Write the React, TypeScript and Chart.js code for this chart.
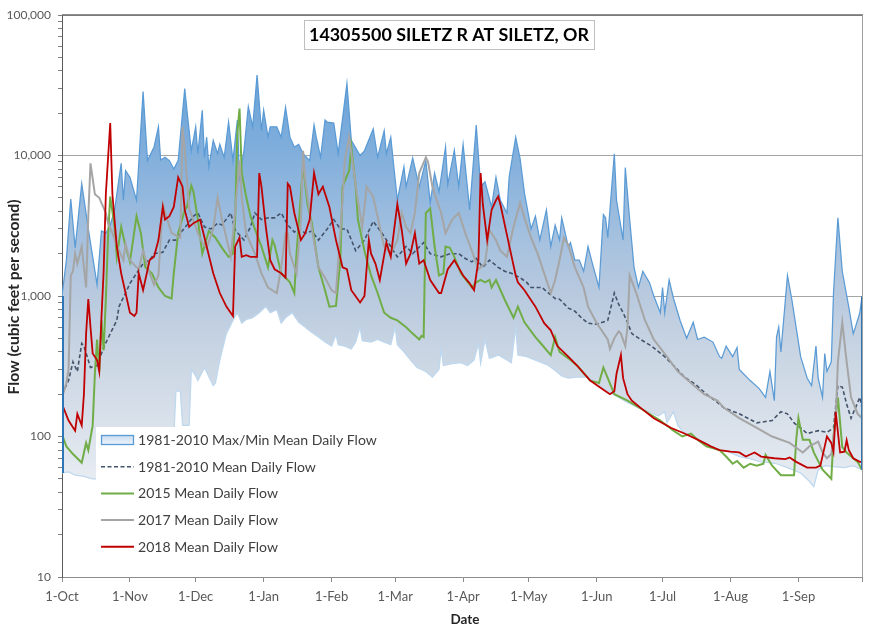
import React, { useEffect, useRef } from 'react';
import { Chart, registerables } from 'chart.js';

Chart.register(...registerables);

const FONT = 'Lato, "Open Sans", "DejaVu Sans", sans-serif';

const chartTitle = '14305500 SILETZ R AT SILETZ, OR';
const xAxisTitle = 'Date';
const yAxisTitle = 'Flow (cubic feet per second)';

// day index from 1-Oct (leap water year, 366 days: 0..365)
const monthTickDays = [0, 31, 61, 92, 123, 152, 183, 213, 244, 274, 305, 336, 365];
const monthTickLabels = ['1-Oct', '1-Nov', '1-Dec', '1-Jan', '1-Feb', '1-Mar', '1-Apr', '1-May', '1-Jun', '1-Jul', '1-Aug', '1-Sep', ''];

const flowTickValues = [10, 20, 30, 40, 50, 60, 70, 80, 90, 100, 200, 300, 400, 500, 600, 700, 800, 900, 1000, 2000, 3000, 4000, 5000, 6000, 7000, 8000, 9000, 10000, 20000, 30000, 40000, 50000, 60000, 70000, 80000, 90000, 100000];
const flowMajorTicks = [10, 100, 1000, 10000, 100000];
const flowMajorLabels = ['10', '100', '1,000', '10,000', '100,000'];
const flowGridLines = [1000, 10000, 100000];

const legendLabels = [
  '1981-2010 Max/Min Mean Daily Flow',
  '1981-2010 Mean Daily Flow',
  '2015 Mean Daily Flow',
  '2017 Mean Daily Flow',
  '2018 Mean Daily Flow',
];

// [day, cfs]
const maxFlowSeries = [[0,1000],[2,1800],[4,4900],[6,2200],[9,6300],[12,3000],[16,1200],[18,2900],[20,2800],[22,3200],[24,4100],[27,8800],[28,4800],[29,7800],[31,7000],[34,4800],[37,28500],[39,9200],[42,11500],[44,16000],[45,9300],[47,9700],[49,9200],[51,8000],[53,9200],[56,30000],[57,21000],[59,10800],[61,16000],[62,10300],[64,21000],[65,9700],[66,13500],[67,8300],[69,12800],[71,10300],[72,12000],[74,9700],[76,17300],[78,9200],[80,17900],[81,7000],[83,10800],[85,22300],[87,16000],[89,37400],[91,15000],[92,21000],[94,13500],[95,16000],[98,16000],[100,13500],[102,22000],[104,13500],[106,11500],[108,12000],[110,10300],[113,9200],[115,16500],[116,13500],[118,9700],[120,17900],[121,17300],[124,17000],[126,10300],[130,32500],[132,12800],[136,10000],[138,10800],[142,15500],[144,9700],[147,15000],[148,10300],[150,13500],[153,4800],[156,8300],[157,6000],[160,9600],[163,6000],[166,9200],[168,4600],[170,7500],[172,5500],[175,11500],[176,6200],[179,10900],[181,6000],[183,12000],[186,4100],[189,16500],[191,6000],[193,6500],[196,4300],[198,7000],[200,4800],[203,3900],[204,7000],[207,13500],[209,9500],[211,5400],[214,3000],[216,3700],[218,2500],[221,4100],[223,2250],[225,3200],[227,2500],[228,3600],[231,2250],[232,2400],[234,1800],[236,1800],[238,1500],[240,2250],[242,1700],[245,1150],[247,3800],[248,3600],[249,2600],[252,10300],[253,4800],[256,2500],[257,8200],[259,3500],[261,1600],[263,1150],[265,1500],[268,1250],[270,1000],[273,760],[274,1150],[275,760],[277,1300],[279,960],[282,670],[285,500],[288,650],[290,490],[293,510],[297,470],[300,370],[301,360],[303,440],[306,370],[308,430],[309,300],[314,250],[318,220],[321,190],[323,290],[325,180],[326,510],[327,600],[328,400],[331,1400],[333,940],[337,370],[340,260],[342,230],[344,440],[345,260],[347,190],[348,390],[349,290],[351,340],[352,1050],[354,3600],[356,1500],[359,830],[361,540],[362,600],[364,760],[365,990]];

const minFlowSeries = [[0,55],[3,56],[6,53],[10,52],[14,50],[20,50],[30,52],[40,55],[48,60],[51,100],[52,210],[54,210],[55,120],[58,120],[59,300],[61,270],[62,250],[65,310],[69,230],[70,240],[72,350],[75,540],[78,670],[80,760],[82,640],[84,680],[87,700],[90,760],[93,840],[95,760],[98,800],[100,640],[102,700],[105,760],[108,650],[111,600],[114,550],[117,510],[120,470],[123,440],[125,530],[126,450],[129,440],[132,420],[134,470],[136,600],[137,480],[141,470],[144,490],[147,470],[150,450],[152,600],[153,450],[156,400],[159,350],[162,310],[166,290],[169,265],[172,300],[173,420],[174,320],[178,330],[182,335],[185,320],[188,350],[190,460],[191,330],[193,490],[195,360],[199,380],[203,350],[205,335],[207,600],[208,380],[212,370],[216,350],[220,330],[222,320],[225,295],[228,270],[231,260],[235,265],[240,265],[244,240],[248,215],[254,190],[258,175],[263,160],[268,150],[272,140],[275,150],[276,125],[279,150],[281,120],[284,105],[287,100],[290,95],[294,90],[296,85],[299,80],[304,78],[309,72],[313,70],[319,66],[324,65],[326,64],[331,60],[337,55],[341,48],[343,44],[345,58],[348,62],[352,61],[357,60],[361,62],[365,58]];

const meanFlowSeries = [[0,200],[3,250],[5,340],[7,290],[9,460],[10,440],[13,310],[16,320],[19,430],[22,540],[25,670],[26,840],[29,1050],[31,1230],[34,1450],[37,1700],[40,1800],[42,2000],[46,2050],[49,2500],[52,2500],[54,2800],[57,3200],[60,3700],[62,3900],[65,3100],[68,3000],[71,3300],[73,3200],[77,3900],[79,2950],[83,2500],[86,3100],[88,3900],[91,3500],[94,3600],[97,3600],[100,3900],[103,3200],[106,2850],[108,3000],[111,2800],[114,2900],[117,2500],[121,3000],[124,3500],[127,3000],[130,3000],[134,2100],[138,2500],[142,3400],[146,2800],[150,2250],[153,1900],[157,2250],[160,2000],[165,2400],[168,2000],[173,1900],[177,2000],[181,2000],[184,1850],[187,1750],[189,1850],[192,1600],[195,1800],[199,1600],[202,1500],[205,1450],[209,1350],[212,1250],[214,1150],[219,1150],[222,1050],[225,960],[227,950],[231,820],[234,780],[237,700],[240,640],[244,630],[249,670],[252,1050],[254,870],[256,760],[258,650],[260,540],[264,490],[269,440],[275,370],[279,320],[284,265],[289,235],[294,200],[298,180],[302,160],[309,145],[317,125],[324,130],[328,150],[331,145],[334,125],[337,115],[340,105],[345,110],[349,107],[352,115],[354,230],[356,225],[358,170],[360,135],[362,160],[364,190],[365,160]];

const flow2015Series = [[0,103],[2,85],[5,75],[9,65],[11,90],[12,80],[14,120],[15,280],[16,490],[17,290],[18,670],[19,410],[20,950],[21,2600],[22,5100],[24,3100],[25,1900],[27,3100],[29,2250],[31,1750],[34,3700],[36,2800],[38,1600],[41,1450],[44,1150],[47,1000],[50,960],[51,1450],[53,2800],[56,4100],[57,4300],[59,6100],[60,5500],[62,3500],[64,2000],[67,2900],[70,2600],[73,2200],[76,1900],[78,2000],[79,3500],[80,14500],[81,21600],[82,7500],[84,5100],[86,3700],[88,3000],[91,2250],[94,1600],[96,2500],[97,2300],[100,1450],[102,1350],[104,1250],[106,1050],[107,2000],[109,5300],[110,8500],[112,4500],[114,3300],[117,1600],[120,1100],[122,840],[125,850],[127,1800],[128,6000],[131,7800],[132,11500],[134,6000],[135,3500],[138,2100],[141,1400],[144,1050],[147,760],[150,700],[153,670],[157,600],[160,540],[163,490],[164,520],[165,510],[166,3900],[168,4200],[170,2250],[172,1400],[174,1450],[175,2250],[177,2200],[179,1900],[182,1450],[187,1150],[189,1250],[191,1300],[193,1250],[195,1300],[196,1150],[198,1300],[202,940],[206,700],[208,840],[211,650],[216,510],[219,450],[223,380],[225,510],[227,400],[231,360],[235,320],[241,250],[245,240],[247,310],[249,260],[252,200],[258,180],[265,155],[273,130],[279,110],[283,100],[287,105],[290,95],[294,85],[300,80],[303,72],[306,64],[308,67],[311,60],[314,64],[317,62],[320,64],[321,74],[324,62],[328,53],[334,53],[335,95],[336,135],[338,95],[341,95],[343,77],[347,58],[351,50],[352,100],[354,190],[356,84],[358,77],[361,70],[363,66],[365,58]];

const flow2017Series = [[0,190],[2,240],[3,300],[4,1400],[5,1500],[6,2000],[7,1700],[9,2250],[10,1600],[11,1150],[12,3700],[13,8800],[15,5300],[17,5000],[18,4600],[20,3900],[21,3300],[23,2800],[25,2300],[28,1800],[29,2350],[31,1800],[34,1600],[35,1550],[37,2100],[40,1450],[42,1200],[44,1400],[46,4500],[48,3500],[50,2800],[54,2600],[55,16000],[56,11000],[58,4200],[62,2800],[64,2400],[66,2200],[69,3000],[71,5000],[73,3500],[75,2600],[77,1900],[79,4000],[81,9200],[82,5000],[84,2800],[88,2000],[91,1450],[94,1150],[98,1050],[100,1600],[102,2800],[103,2800],[104,2000],[107,1450],[109,3500],[110,10800],[111,6700],[114,3000],[117,1600],[120,1350],[123,1100],[125,1050],[128,4800],[129,9200],[131,13500],[133,8000],[135,4800],[137,3100],[139,6000],[142,5100],[145,3100],[147,2250],[150,2000],[153,2500],[155,3900],[157,3100],[159,2800],[161,3900],[163,7500],[166,9700],[167,9000],[169,6000],[171,4800],[173,3900],[175,2800],[178,3500],[181,3900],[184,2800],[187,2100],[190,1550],[193,1700],[195,2950],[198,2500],[200,2100],[203,1900],[206,3100],[209,4600],[211,3600],[214,2600],[217,2000],[220,1450],[223,1050],[225,1300],[227,1800],[229,2600],[231,2300],[234,1600],[238,1150],[240,840],[244,640],[249,490],[250,420],[252,500],[254,560],[255,540],[257,440],[258,600],[259,1400],[262,1050],[266,670],[270,490],[276,370],[281,290],[287,240],[293,200],[299,180],[302,160],[309,135],[317,115],[324,100],[332,90],[338,77],[341,85],[345,92],[347,77],[349,70],[351,75],[353,130],[354,340],[356,650],[358,340],[360,190],[363,145],[365,135]];

const flow2018Series = [[0,170],[3,130],[6,110],[7,145],[9,120],[10,200],[11,540],[12,950],[13,600],[14,390],[16,350],[17,290],[18,700],[19,1500],[20,5300],[22,17000],[23,5300],[25,2250],[27,1450],[29,1050],[31,760],[33,720],[34,760],[35,1450],[37,1100],[40,1800],[42,1900],[44,2500],[46,4300],[47,3500],[49,3700],[51,4300],[53,7000],[55,6000],[56,4100],[58,3100],[60,3300],[63,3500],[66,2250],[69,1450],[72,1050],[75,840],[78,720],[79,2250],[81,2600],[82,1900],[84,1950],[86,1900],[89,1900],[90,7500],[91,6000],[93,3100],[95,1800],[97,1550],[100,1450],[102,1350],[103,6300],[104,6000],[106,3900],[109,2500],[111,2800],[113,3500],[115,7500],[117,5300],[119,6000],[122,4300],[125,2500],[128,1600],[130,1550],[132,1100],[136,900],[138,1000],[140,2500],[141,2000],[143,1700],[145,1300],[148,2400],[150,1900],[153,4500],[155,2950],[157,1700],[159,2000],[161,2800],[163,1700],[165,1800],[168,1300],[172,1050],[173,1050],[176,1550],[179,1800],[183,1400],[186,1230],[188,1100],[190,1800],[191,7500],[192,4500],[194,2500],[196,4100],[198,4800],[199,5100],[200,4500],[204,2300],[207,1400],[208,1250],[211,1100],[216,840],[220,640],[223,570],[226,440],[231,370],[235,320],[241,250],[247,215],[250,200],[252,210],[253,280],[255,380],[256,260],[258,200],[260,180],[264,160],[270,135],[278,115],[284,105],[290,95],[296,85],[300,80],[305,78],[309,77],[312,72],[316,77],[319,72],[325,70],[330,69],[332,71],[335,66],[340,60],[344,60],[346,62],[348,85],[349,100],[351,90],[352,78],[353,150],[355,77],[357,78],[358,94],[359,80],[361,70],[364,66],[365,66]];

const toXY = (s: number[][]) => s.map(([x, y]) => ({ x, y }));

const areaGradient = (context: any) => {
  const chart = context.chart;
  const area = chart.chartArea;
  if (!area) return 'rgba(120,165,215,0.6)';
  const g = chart.ctx.createLinearGradient(0, area.top, 0, area.bottom);
  g.addColorStop(0, '#5b9bd5');
  g.addColorStop(0.1, '#67a2d8');
  g.addColorStop(0.25, '#82afdc');
  g.addColorStop(0.4, '#a5c1df');
  g.addColorStop(0.5, '#b9cadf');
  g.addColorStop(0.6, '#c9d5e3');
  g.addColorStop(0.75, '#dce3ec');
  g.addColorStop(0.85, '#ebeff4');
  g.addColorStop(1, '#fafbfc');
  return g;
};

const fitFontSize = (ctx: CanvasRenderingContext2D, text: string, weight: string, target: number, base: number) => {
  ctx.font = `${weight} ${base}px ${FONT}`;
  const w = ctx.measureText(text).width;
  return w > 0 ? (base * target) / w : base;
};

const decorPlugin = {
  id: 'decor',
  beforeDraw(chart: any) {
    const ctx = chart.ctx;
    ctx.save();
    ctx.fillStyle = '#ffffff';
    ctx.fillRect(0, 0, chart.width, chart.height);
    ctx.restore();
  },
  afterDatasetsDraw(chart: any) {
    const ctx: CanvasRenderingContext2D = chart.ctx;
    const area = chart.chartArea;
    const xs = chart.scales.x;
    const ys = chart.scales.y;
    ctx.save();
    // area series end edges
    ctx.strokeStyle = '#2e75b6';
    ctx.lineWidth = 2;
    const lastMax = maxFlowSeries[maxFlowSeries.length - 1];
    const lastMin = minFlowSeries[minFlowSeries.length - 1];
    ctx.beginPath();
    ctx.moveTo(xs.getPixelForValue(maxFlowSeries[0][0]) + 1, ys.getPixelForValue(maxFlowSeries[0][1]));
    ctx.lineTo(xs.getPixelForValue(minFlowSeries[0][0]) + 1, ys.getPixelForValue(minFlowSeries[0][1]));
    ctx.moveTo(xs.getPixelForValue(lastMax[0]), ys.getPixelForValue(lastMax[1]));
    ctx.lineTo(xs.getPixelForValue(lastMin[0]), ys.getPixelForValue(lastMin[1]));
    ctx.stroke();

    // plot borders (top, right)
    ctx.lineWidth = 1.5;
    ctx.strokeStyle = '#6b6b6b';
    ctx.beginPath();
    ctx.moveTo(area.left, area.top);
    ctx.lineTo(area.right + 1, area.top);
    ctx.stroke();
    ctx.lineWidth = 1;
    ctx.strokeStyle = '#a0a0a0';
    ctx.beginPath();
    ctx.moveTo(area.right + 0.5, area.top);
    ctx.lineTo(area.right + 0.5, area.bottom);
    ctx.stroke();

    // legend
    const boxL = 96, boxT = 427, boxW = 252, boxH = 130;
    ctx.fillStyle = '#ffffff';
    ctx.fillRect(boxL, boxT, boxW, boxH);
    const swL = 101, swR = 134, textX = 138, row0 = 440, rowGap = 26.7;
    const legendSize = fitFontSize(ctx, legendLabels[0], '', 239, 13);
    const lineColors = ['#5b9bd5', '#44546a', '#70ad47', '#a5a5a5', '#c00000'];
    legendLabels.forEach((label, i) => {
      const y = row0 + i * rowGap;
      if (i === 0) {
        const g = ctx.createLinearGradient(0, y - 5, 0, y + 5);
        g.addColorStop(0, '#c9dcf0');
        g.addColorStop(1, '#eef4fb');
        ctx.fillStyle = g;
        ctx.fillRect(swL, y - 5, swR - swL, 10);
        ctx.strokeStyle = '#5b9bd5';
        ctx.lineWidth = 1.3;
        ctx.setLineDash([]);
        ctx.strokeRect(swL + 0.5, y - 4.5, swR - swL - 1, 9);
      } else {
        ctx.strokeStyle = lineColors[i];
        ctx.lineWidth = i === 1 ? 1.6 : 2;
        ctx.setLineDash(i === 1 ? [4, 2.5] : []);
        ctx.beginPath();
        ctx.moveTo(swL, y);
        ctx.lineTo(swR, y);
        ctx.stroke();
        ctx.setLineDash([]);
      }
      ctx.fillStyle = '#404040';
      ctx.font = `${legendSize}px ${FONT}`;
      ctx.textAlign = 'left';
      ctx.textBaseline = 'middle';
      ctx.fillText(label, textX, y + 0.5);
    });
    ctx.restore();
  },
  afterDraw(chart: any) {
    const ctx: CanvasRenderingContext2D = chart.ctx;
    ctx.save();
    // title box
    ctx.fillStyle = '#ffffff';
    ctx.fillRect(304, 20, 290, 29);
    ctx.strokeStyle = '#bfbfbf';
    ctx.lineWidth = 1;
    ctx.strokeRect(304.5, 20.5, 290, 29);
    const tSize = fitFontSize(ctx, chartTitle, 'bold', 280, 17);
    ctx.font = `bold ${tSize}px ${FONT}`;
    ctx.fillStyle = '#000000';
    ctx.textAlign = 'center';
    ctx.textBaseline = 'middle';
    ctx.fillText(chartTitle, 449, 35.5);

    // axis titles
    ctx.fillStyle = '#262626';
    ctx.font = `bold 13.5px ${FONT}`;
    ctx.fillText(xAxisTitle, 465, 620);
    const ySize = fitFontSize(ctx, yAxisTitle, 'bold', 195, 13);
    ctx.font = `bold ${ySize}px ${FONT}`;
    ctx.translate(14, 297);
    ctx.rotate(-Math.PI / 2);
    ctx.fillText(yAxisTitle, 0, 0);
    ctx.restore();
  },
};

export default function App() {
  const canvasRef = useRef<HTMLCanvasElement>(null);

  useEffect(() => {
    const canvas = canvasRef.current;
    if (!canvas) return;
    const lineBase = { pointRadius: 0, pointHoverRadius: 0, tension: 0, fill: false };
    const chart = new Chart(canvas, {
      type: 'line',
      data: {
        datasets: [
          { ...lineBase, label: 'max', data: toXY(maxFlowSeries), borderColor: '#5b9bd5', borderWidth: 1.25, backgroundColor: areaGradient, fill: '+1', order: 6 },
          { ...lineBase, label: 'min', data: toXY(minFlowSeries), borderColor: '#bdd7ee', borderWidth: 1.25, order: 5 },
          { ...lineBase, label: legendLabels[1], data: toXY(meanFlowSeries), borderColor: '#44546a', borderWidth: 1.6, borderDash: [4, 2.5], order: 4 },
          { ...lineBase, label: legendLabels[2], data: toXY(flow2015Series), borderColor: '#70ad47', borderWidth: 2, order: 3 },
          { ...lineBase, label: legendLabels[3], data: toXY(flow2017Series), borderColor: '#a5a5a5', borderWidth: 2, order: 2 },
          { ...lineBase, label: legendLabels[4], data: toXY(flow2018Series), borderColor: '#c00000', borderWidth: 1.8, order: 1 },
        ],
      },
      options: {
        responsive: false,
        animation: false,
        events: [],
        layout: { padding: { top: 15, right: 1, left: 0, bottom: 0 } },
        plugins: { legend: { display: false }, tooltip: { enabled: false }, title: { display: false } },
        scales: {
          x: {
            type: 'linear',
            min: 0,
            max: 365,
            afterBuildTicks: (s: any) => { s.ticks = monthTickDays.map((v) => ({ value: v })); },
            afterFit: (s: any) => { s.height = 52; },
            ticks: {
              autoSkip: false,
              maxRotation: 0,
              minRotation: 0,
              padding: 7,
              color: '#595959',
              font: { family: FONT, size: 13 },
              callback: (v: any) => { const i = monthTickDays.indexOf(Number(v)); return i >= 0 ? monthTickLabels[i] : ''; },
            },
            grid: { drawOnChartArea: false, drawTicks: true, tickLength: 5, tickColor: '#8c8c8c', color: '#8c8c8c' },
            border: { color: '#8c8c8c', width: 1 },
          },
          y: {
            type: 'logarithmic',
            min: 10,
            max: 100000,
            afterBuildTicks: (s: any) => { s.ticks = flowTickValues.map((v) => ({ value: v })); },
            afterFit: (s: any) => { s.width = 62; },
            ticks: {
              autoSkip: false,
              padding: 7,
              color: '#595959',
              font: { family: FONT, size: 12 },
              callback: (v: any) => { const i = flowMajorTicks.indexOf(Number(v)); return i >= 0 ? flowMajorLabels[i] : ''; },
            },
            grid: {
              color: (c: any) => (c.tick && flowGridLines.indexOf(c.tick.value) >= 0 ? '#a6a6a6' : 'rgba(0,0,0,0)'),
              tickColor: '#7f7f7f',
              tickLength: 4,
              lineWidth: 1,
            },
            border: { color: '#595959', width: 1 },
          },
        },
      },
      plugins: [decorPlugin],
    } as any);
    return () => chart.destroy();
  }, []);

  return (
    <div style={{ position: 'absolute', left: 0, top: 0, width: 869, height: 629, background: '#ffffff' }}>
      <canvas ref={canvasRef} width={869} height={629} style={{ display: 'block', width: 869, height: 629 }} />
    </div>
  );
}
